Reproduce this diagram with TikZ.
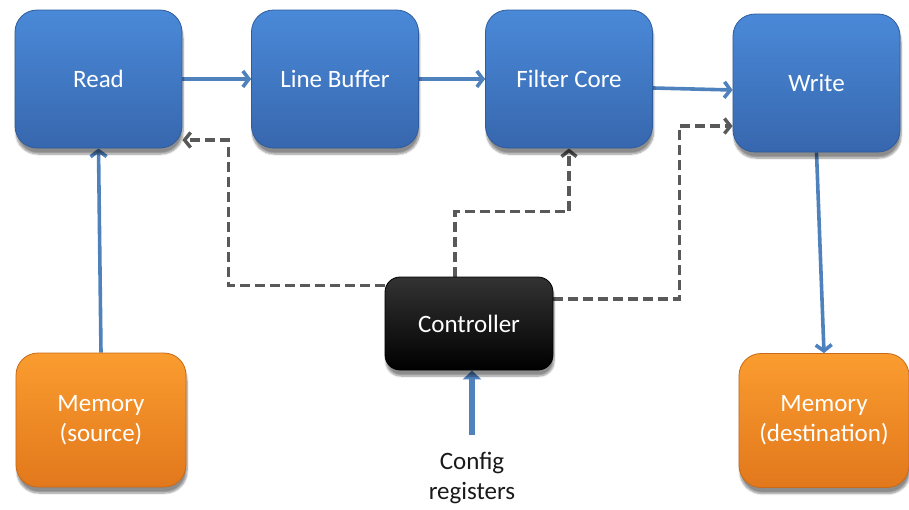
\documentclass[tikz,border=0pt]{standalone}
\usepackage{fontspec}
\setmainfont{Carlito}
\usetikzlibrary{arrows.meta,shadows.blur,backgrounds}

\definecolor{bleuhaut}{HTML}{4A89D8}
\definecolor{bleubas}{HTML}{3767AE}
\definecolor{bleubord}{HTML}{2E5C9C}
\definecolor{orhaut}{HTML}{FA9C2F}
\definecolor{orbas}{HTML}{E2781C}
\definecolor{orbord}{HTML}{C86A18}
\definecolor{fleche}{HTML}{4F81BD}
\definecolor{gris}{HTML}{595959}

\begin{document}
\begin{tikzpicture}[x=1pt,y=-1pt]
\tikzset{bloc/.style={draw=bleubord, line width=0.8pt, rounded corners=22pt, minimum width=167pt, minimum height=138pt, top color=bleuhaut, bottom color=bleubas, text=white, font=\fontsize{25}{30}\selectfont, align=center, blur shadow={shadow xshift=1pt, shadow yshift=-6pt, shadow blur steps=8, shadow opacity=45}}}
\tikzset{memoire/.style={bloc, draw=orbord, minimum width=170pt, minimum height=134pt, top color=orhaut, bottom color=orbas}}
\tikzset{controle/.style={bloc, draw=black, rounded corners=15pt, minimum width=168pt, minimum height=93pt, top color=black!80, bottom color=black}}
\tikzset{flux/.style={draw=fleche, line width=3.6pt, -{Straight Barb[length=6pt,width=16pt]}}}
\tikzset{commande/.style={draw=gris, line width=3.4pt, dash pattern=on 10pt off 5pt, -{Straight Barb[length=6pt,width=15pt]}}}
\useasboundingbox (0,0) rectangle (909,509);
\node[bloc] (read) at (98.5,79) {Read};
\node[bloc] (linebuf) at (335,79) {Line Buffer};
\node[bloc] (filter) at (569,79) {Filter Core};
\node[bloc] (write) at (816.5,83) {Write};
\node[controle] (ctrl) at (469,323.5) {Controller};
\node[memoire] (memsrc) at (101,420) {Memory\\(source)};
\node[memoire] (memdst) at (824,420.5) {Memory\\(destination)};
\node[anchor=north, inner sep=0pt, align=center, text=black!90, font=\fontsize{25}{30}\selectfont] (cfg) at (472,452) {Config\\registers};
\begin{pgfonlayer}{background}
\draw[flux] (read) -- (linebuf);
\draw[flux] (linebuf) -- (filter);
\draw[flux] ([yshift=-9pt]filter.east) -- ([yshift=-7pt]write.west);
\draw[flux] (write.south) -- (memdst.north);
\draw[flux] (memsrc.north) -- (read.south);
\draw[flux, line width=6.5pt, -{Triangle[length=9pt,width=18pt]}] ([yshift=17pt]cfg.north) -- (cfg.north |- ctrl.south);
\draw[commande] ([yshift=38pt]ctrl.west) -| ([xshift=46pt,yshift=-61pt]read.east) -- ([yshift=-61pt]read.east);
\draw[commande] ([xshift=-14pt]ctrl.north) |- ([yshift=-63pt]filter.south) -- (filter.south);
\draw[commande] ([yshift=24.5pt]ctrl.east) -| ([xshift=-53pt,yshift=-43pt]write.west) -- ([yshift=-43pt]write.west);
\end{pgfonlayer}
\end{tikzpicture}
\end{document}
